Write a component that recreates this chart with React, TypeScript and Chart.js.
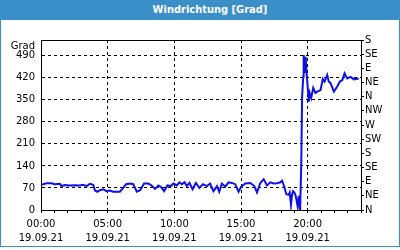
import React, { useEffect, useRef } from "react";
import { Chart, registerables } from "chart.js";

Chart.register(...registerables);

const TITLE = "Windrichtung [Grad]";
const Y_TITLE = "Grad";
const DATE_LABEL = "19.09.21";
const HOUR_LABELS = ["00:00", "05:00", "10:00", "15:00", "20:00"];
const LEFT_TICKS = [0, 70, 140, 210, 280, 350, 420, 490];
const DIR_TICKS = [0, 45, 90, 135, 180, 225, 270, 315, 360, 405, 450, 495, 540];
const DIR_LABELS = ["N", "NE", "E", "SE", "S", "SW", "W", "NW", "N", "NE", "E", "SE", "S"];

const TIMES = [
  "00:00", "00:10", "00:25", "00:47", "01:02", "01:25", "01:32", "01:47", "02:10", "02:32",
  "02:55", "03:10", "03:25", "03:40", "03:55", "04:03", "04:13", "04:25", "04:40", "04:55",
  "05:10", "05:25", "05:55", "06:10", "06:23", "06:41", "06:55", "07:11", "07:26", "07:44",
  "08:03", "08:18", "08:33", "08:48", "08:59", "09:14", "09:29", "09:44", "09:56", "10:11",
  "10:23", "10:34", "10:46", "10:56", "11:08", "11:22", "11:37", "11:53", "12:09", "12:27",
  "12:41", "12:56", "13:12", "13:22", "13:34", "13:49", "14:04", "14:19", "14:34", "14:49",
  "15:01", "15:19", "15:42", "16:00", "16:12", "16:27", "16:42", "16:57", "17:12", "17:27",
  "17:42", "17:57", "18:05", "18:15", "18:24", "18:35", "18:39", "18:45", "18:50", "18:54",
  "19:00", "19:06", "19:15", "19:20", "19:26", "19:31", "19:35", "19:40", "19:42", "19:47",
  "19:51", "19:55", "20:00", "20:05", "20:09", "20:16", "20:25", "20:35", "20:43", "20:58",
  "21:08", "21:16", "21:28", "21:35", "21:43", "21:58", "22:13", "22:25", "22:36", "22:46",
  "22:58", "23:13", "23:28", "23:50",
];

const WIND_DIR = [
  79, 82, 85, 85, 82, 83, 76, 79, 78, 79,
  78, 80, 76, 83, 80, 62, 58, 63, 66, 60,
  62, 58, 58, 70, 82, 84, 82, 58, 63, 84,
  84, 78, 67, 78, 74, 60, 78, 76, 84, 78,
  88, 82, 88, 76, 86, 66, 86, 70, 82, 76,
  84, 60, 76, 58, 84, 74, 88, 86, 82, 58,
  74, 84, 86, 76, 56, 86, 98, 78, 88, 84,
  85, 88, 93, 74, 50, 48, 55, 16, 50, 60,
  56, 45, 11, 45, 0, 138, 360, 423, 492, 435,
  487, 435, 392, 344, 372, 356, 388, 372, 376, 381,
  416, 408, 429, 408, 403, 376, 392, 408, 413, 434,
  418, 423, 415, 418,
];

const toMinutes = (t: string) => {
  const [h, m] = t.split(":").map(Number);
  return h * 60 + m;
};

const FONT = "DejaVu Sans";
const BLUE = "#3a8fc8";

export default function App() {
  const ref = useRef<HTMLCanvasElement | null>(null);

  useEffect(() => {
    document.body.style.margin = "0";
    const canvas = ref.current!;
    const points = TIMES.map((t, i) => ({ x: toMinutes(t), y: WIND_DIR[i] }));

    const frame = {
      id: "frame",
      afterDraw(chart: any) {
        const { ctx, chartArea } = chart;
        ctx.save();
        ctx.strokeStyle = "#000";
        ctx.lineWidth = 1;
        ctx.beginPath();
        ctx.moveTo(chartArea.left, Math.round(chartArea.top) + 0.5);
        ctx.lineTo(chartArea.right, Math.round(chartArea.top) + 0.5);
        ctx.stroke();
        ctx.fillStyle = "#000";
        ctx.font = `10px "${FONT}"`;
        ctx.textAlign = "right";
        ctx.textBaseline = "middle";
        ctx.fillText(Y_TITLE, chartArea.left - 6, chartArea.top + 6);
        ctx.restore();
      },
    };

    const chart = new Chart(canvas, {
      type: "line",
      data: {
        datasets: [
          {
            data: points,
            borderColor: "#1010e6",
            borderWidth: 2,
            pointRadius: 0,
            tension: 0,
            yAxisID: "y",
          },
        ],
      },
      options: {
        animation: false,
        responsive: false,
        maintainAspectRatio: false,
        layout: { padding: { top: 20, left: 0, right: 0, bottom: 0 } },
        plugins: { legend: { display: false }, tooltip: { enabled: false }, title: { display: false } },
        font: { family: FONT, size: 10 },
        scales: {
          x: {
            type: "linear",
            min: 0,
            max: 1440,
            afterBuildTicks: (s: any) => {
              const t = [];
              for (let v = 0; v <= 1440; v += 60) t.push({ value: v });
              s.ticks = t;
            },
            afterFit: (s: any) => {
              s.height = 36;
            },
            ticks: {
              autoSkip: false,
              maxRotation: 0,
              minRotation: 0,
              padding: 5,
              color: "#000",
              font: { family: FONT, size: 10, lineHeight: 1.35 },
              callback: (v: any) => {
                const n = Number(v);
                if (n % 300 === 0 && n / 300 < HOUR_LABELS.length) return [HOUR_LABELS[n / 300], DATE_LABEL];
                return "";
              },
            },
            grid: {
              color: (c: any) => (c.tick && c.tick.value % 300 === 0 && c.tick.value > 0 ? "#000" : "rgba(0,0,0,0)"),
              tickColor: "#000",
              tickLength: 3,
              tickBorderDash: [],
            },
            border: { display: true, color: "#000", dash: [3, 3] },
          },
          y: {
            type: "linear",
            position: "left",
            min: 0,
            max: 540,
            afterBuildTicks: (s: any) => {
              s.ticks = LEFT_TICKS.map((v) => ({ value: v }));
            },
            afterFit: (s: any) => {
              s.width = 40;
            },
            ticks: {
              autoSkip: false,
              padding: 6,
              color: "#000",
              font: { family: FONT, size: 10 },
              callback: (v: any) => String(v),
            },
            grid: {
              drawTicks: false,
              color: (c: any) => (c.tick && c.tick.value > 0 ? "#000" : "rgba(0,0,0,0)"),
            },
            border: { display: true, color: "#000", dash: [3, 3] },
          },
          y2: {
            type: "linear",
            position: "right",
            min: 0,
            max: 540,
            afterBuildTicks: (s: any) => {
              s.ticks = DIR_TICKS.map((v) => ({ value: v }));
            },
            afterFit: (s: any) => {
              s.width = 38;
            },
            ticks: {
              autoSkip: false,
              padding: 1,
              color: "#000",
              font: { family: FONT, size: 10 },
              callback: (v: any) => {
                const i = DIR_TICKS.indexOf(Number(v));
                return i >= 0 ? DIR_LABELS[i] : "";
              },
            },
            grid: {
              drawOnChartArea: false,
              drawTicks: true,
              tickLength: 3,
              color: "#000",
              tickColor: "#000",
            },
            border: { display: true, color: "#000" },
          },
        },
      } as any,
      plugins: [frame],
    });
    return () => chart.destroy();
  }, []);

  return (
    <div style={{ position: "fixed", left: 0, top: 0, width: 400, height: 250, background: "#fff" }}>
      <div
        style={{
          position: "absolute",
          left: 0,
          top: 0,
          width: 400,
          height: 247,
          boxSizing: "border-box",
          border: `1px solid ${BLUE}`,
          borderTop: "none",
        }}
      />
      <div
        style={{
          position: "absolute",
          left: 0,
          top: 0,
          width: 400,
          height: 20,
          background: BLUE,
          color: "#fff",
          font: `bold 11px "DejaVu Sans Condensed", "DejaVu Sans"`,
          lineHeight: "20px",
          textAlign: "center",
          paddingLeft: 20,
          boxSizing: "border-box",
        }}
      >
        {TITLE}
      </div>
      <canvas ref={ref} width={398} height={226} style={{ position: "absolute", left: 1, top: 20, width: 398, height: 226 }} />
    </div>
  );
}
